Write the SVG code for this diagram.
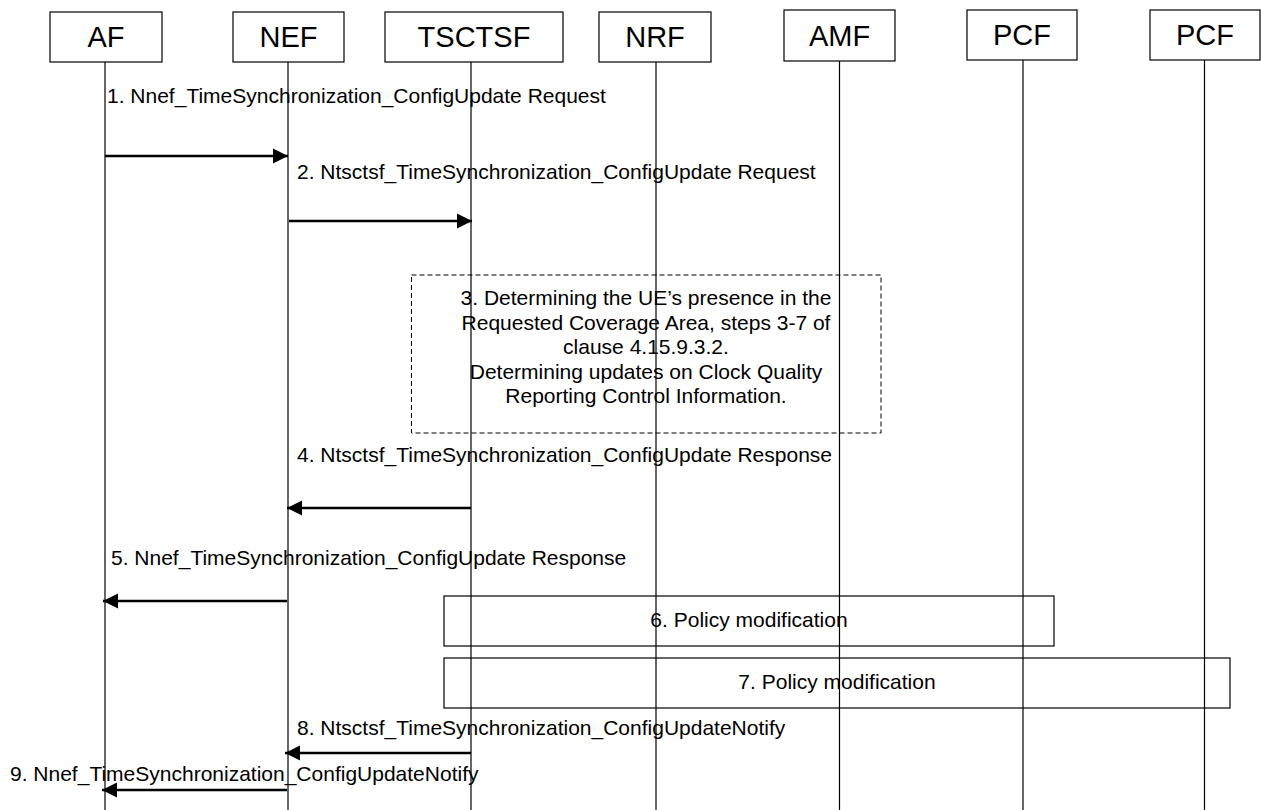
<svg xmlns="http://www.w3.org/2000/svg" width="1261" height="810" viewBox="0 0 1261 810">
<style>
text{font-family:"Liberation Sans",Arial,sans-serif;fill:#000}
.hb{fill:#fff;stroke:#000;stroke-width:1.2}
.ht{font-size:29px;text-anchor:middle}
.life{stroke:#000;stroke-width:1.2}
.msg{stroke:#000;stroke-width:2.6;fill:none}
.lbl{font-size:21px}
.box{fill:none;stroke:#000;stroke-width:1.2}
.dash{fill:none;stroke:#000;stroke-width:1;stroke-dasharray:5,3}
.ct{font-size:21px;text-anchor:middle}
</style>
<defs>
<marker id="ah" markerUnits="userSpaceOnUse" markerWidth="16" markerHeight="16" viewBox="0 0 16 16" refX="15" refY="8" orient="auto">
<path d="M0,0.5 L15,8 L0,15.5 Z" fill="#000"/>
</marker>
</defs>
<rect width="1261" height="810" fill="#fff"/>
<g id="lifelines">
<line class="life" x1="105" y1="62" x2="105" y2="810"/>
<line class="life" x1="288" y1="62" x2="288" y2="810"/>
<line class="life" x1="471" y1="62" x2="471" y2="810"/>
<line class="life" x1="656" y1="62" x2="656" y2="810"/>
<line class="life" x1="839.5" y1="61" x2="839.5" y2="810"/>
<line class="life" x1="1023" y1="60" x2="1023" y2="810"/>
<line class="life" x1="1204.5" y1="60" x2="1204.5" y2="810"/>
</g>
<g id="node-AF"><rect class="hb" x="50" y="12" width="112" height="50"/><text class="ht" x="106" y="47">AF</text></g>
<g id="node-NEF"><rect class="hb" x="233" y="12" width="111" height="50"/><text class="ht" x="288.5" y="47">NEF</text></g>
<g id="node-TSCTSF"><rect class="hb" x="385" y="12" width="178" height="50"/><text class="ht" x="474" y="47">TSCTSF</text></g>
<g id="node-NRF"><rect class="hb" x="599" y="12" width="112" height="50"/><text class="ht" x="655" y="47">NRF</text></g>
<g id="node-AMF"><rect class="hb" x="784" y="10" width="111" height="51"/><text class="ht" x="839.5" y="46">AMF</text></g>
<g id="node-PCF1"><rect class="hb" x="967" y="10" width="110" height="50"/><text class="ht" x="1022" y="45">PCF</text></g>
<g id="node-PCF2"><rect class="hb" x="1150" y="10" width="110" height="50"/><text class="ht" x="1205" y="45">PCF</text></g>
<g id="step3">
<rect class="dash" x="411.5" y="275" width="469.5" height="158"/>
<text class="ct" x="646" y="305">3. Determining the UE’s presence in the</text>
<text class="ct" x="646" y="329.5">Requested Coverage Area, steps 3-7 of</text>
<text class="ct" x="646" y="354">clause 4.15.9.3.2.</text>
<text class="ct" x="646" y="378.5">Determining updates on Clock Quality</text>
<text class="ct" x="646" y="403">Reporting Control Information.</text>
</g>
<g id="step6">
<rect class="box" x="444" y="596" width="610" height="50"/>
<text class="ct" x="749" y="627">6. Policy modification</text>
</g>
<g id="step7">
<rect class="box" x="444" y="658" width="786" height="50"/>
<text class="ct" x="837" y="689">7. Policy modification</text>
</g>
<g id="connectors">
<line class="msg" x1="105" y1="156" x2="288" y2="156" marker-end="url(#ah)"/>
<line class="msg" x1="289" y1="221" x2="472" y2="221" marker-end="url(#ah)"/>
<line class="msg" x1="471" y1="508" x2="287" y2="508" marker-end="url(#ah)"/>
<line class="msg" x1="287" y1="601" x2="103" y2="601" marker-end="url(#ah)"/>
<line class="msg" x1="471" y1="753" x2="285" y2="753" marker-end="url(#ah)"/>
<line class="msg" x1="287" y1="790" x2="102" y2="790" marker-end="url(#ah)"/>
</g>
<g id="labels">
<text class="lbl" x="107" y="103">1. Nnef_TimeSynchronization_ConfigUpdate Request</text>
<text class="lbl" x="297" y="179">2. Ntsctsf_TimeSynchronization_ConfigUpdate Request</text>
<text class="lbl" x="297" y="462">4. Ntsctsf_TimeSynchronization_ConfigUpdate Response</text>
<text class="lbl" x="111" y="565">5. Nnef_TimeSynchronization_ConfigUpdate Response</text>
<text class="lbl" x="297" y="735">8. Ntsctsf_TimeSynchronization_ConfigUpdateNotify</text>
<text class="lbl" x="10" y="781">9. Nnef_TimeSynchronization_ConfigUpdateNotify</text>
</g>
</svg>
